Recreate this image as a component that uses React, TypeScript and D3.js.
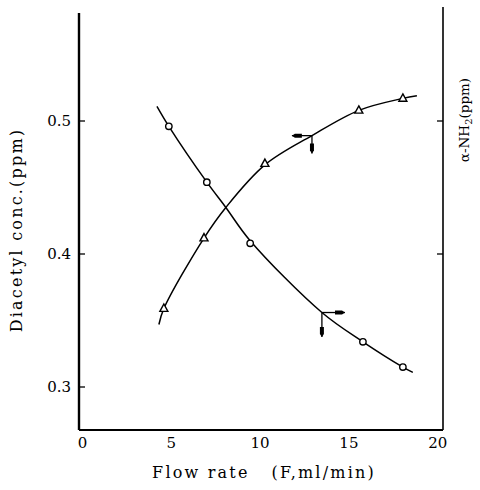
import React from 'react';
import * as d3 from 'd3';

// Flow rate (F, ml/min)
const diacetylF = [4.86, 7.0, 9.44, 15.79, 18.04];
const diacetylV = [0.496, 0.454, 0.408, 0.334, 0.315];
const nh2F = [4.58, 6.84, 10.27, 15.56, 18.04];
const nh2V = [0.359, 0.412, 0.468, 0.508, 0.517];

// hand-drawn fitted curves
const diacetylCurve: [number, number][] = [
  [4.19, 0.511], [4.86, 0.496], [7.0, 0.454], [8.07, 0.435], [9.44, 0.41],
  [13.48, 0.356], [15.79, 0.334], [18.04, 0.315], [18.6, 0.311],
];
const nh2Curve: [number, number][] = [
  [4.3, 0.347], [4.58, 0.359], [6.84, 0.412], [8.07, 0.435], [10.27, 0.467],
  [12.92, 0.489], [15.56, 0.508], [18.04, 0.517], [18.83, 0.519],
];

// axis pointers: where they start and which way they go
const arrows = [
  { f: 12.92, v: 0.489, fTo: 11.79, vTo: 0.4755 },
  { f: 13.48, v: 0.356, fTo: 14.78, vTo: 0.3376 },
];

const xTicks = [0, 5, 10, 15, 20];
const yTicks = [0.3, 0.4, 0.5];
const rightTicks = [0.4, 0.5];

const W = 480;
const H = 490;
const FONT = '"DejaVu Serif", "Liberation Serif", serif';

export default function App() {
  const x = d3.scaleLinear().domain([-0.2, 20.3]).range([79, 443]);
  const y = d3.scaleLinear().domain([0.3, 0.5]).range([387, 121]);
  const yTop = y.invert(13);
  const yTopR = y.invert(7);
  const yBot = y.invert(430);

  const line = d3.line<[number, number]>()
    .x(d => x(d[0])).y(d => y(d[1]))
    .curve(d3.curveCatmullRom.alpha(0.5));

  const head = (x1: number, y1: number, x2: number, y2: number) => {
    // slim filled arrowhead ending at (x2, y2)
    const len = Math.hypot(x2 - x1, y2 - y1);
    const ux = (x2 - x1) / len, uy = (y2 - y1) / len;
    const px = -uy, py = ux;
    const L = 10, hw = 2;
    const bx = x2 - ux * L, by = y2 - uy * L;
    return `M${bx + px * hw},${by + py * hw} L${x2 - ux * 3 + px * hw},${y2 - uy * 3 + py * hw} L${x2},${y2} L${x2 - ux * 3 - px * hw},${y2 - uy * 3 - py * hw} L${bx - px * hw},${by - py * hw} Z`;
  };

  return (
    <svg width={W} height={H} style={{ position: 'absolute', left: 0, top: 0, background: '#fff' }}
      fontFamily={FONT}>
      <rect width={W} height={H} fill="#fff" />

      {/* axes */}
      <line x1={x(-0.2)} x2={x(-0.2)} y1={y(yTop)} y2={y(yBot)} stroke="#000" strokeWidth={2.4} />
      <line x1={x(20.3)} x2={x(20.3)} y1={y(yTopR)} y2={y(yBot)} stroke="#000" strokeWidth={1.6} />
      <line x1={x(-0.2)} x2={x(20.3)} y1={y(yBot)} y2={y(yBot)} stroke="#000" strokeWidth={2} />

      {yTicks.map(t => (
        <g key={t}>
          <line x1={x(-0.2)} x2={x(-0.2) + 6} y1={y(t)} y2={y(t)} stroke="#000" strokeWidth={1.3} />
          <text x={x(-0.2) - 8} y={y(t)} dy="0.35em" textAnchor="end" fontSize={15}>{t.toFixed(1)}</text>
        </g>
      ))}
      {rightTicks.map(t => (
        <line key={t} x1={x(20.3) - 6} x2={x(20.3)} y1={y(t)} y2={y(t)} stroke="#000" strokeWidth={1.3} />
      ))}
      {xTicks.map(t => (
        <text key={t} x={x(t)} y={y(yBot) + 18} textAnchor="middle" fontSize={15}>{t}</text>
      ))}

      {/* axis titles */}
      <text x={264} y={478} textAnchor="middle" fontSize={16} letterSpacing={2.2}>
        {'Flow rate\u00a0\u00a0\u00a0(F,ml/min)'}
      </text>
      <text transform={`translate(22,${y(0.4) - 24}) rotate(-90)`} textAnchor="middle" fontSize={16} letterSpacing={2.2}>
        Diacetyl conc.(ppm)
      </text>
      <text transform={`translate(469,120) rotate(-90)`} textAnchor="middle" fontSize={13.5}>
        α-NH<tspan fontSize={10} dy={3}>2</tspan><tspan dy={-3}>(ppm)</tspan>
      </text>

      {/* curves */}
      <path d={line(diacetylCurve) ?? ''} fill="none" stroke="#000" strokeWidth={1.5} />
      <path d={line(nh2Curve) ?? ''} fill="none" stroke="#000" strokeWidth={1.5} />

      {diacetylF.map((f, i) => (
        <circle key={i} cx={x(f)} cy={y(diacetylV[i])} r={3.2} fill="#fff" stroke="#000" strokeWidth={1.4} />
      ))}
      {nh2F.map((f, i) => {
        const cx = x(f), cy = y(nh2V[i]);
        return (
          <path key={i} d={`M${cx},${cy - 4.5} L${cx + 4},${cy + 2.8} L${cx - 4},${cy + 2.8} Z`}
            fill="#fff" stroke="#000" strokeWidth={1.4} />
        );
      })}

      {/* axis pointers */}
      {arrows.map((a, i) => {
        const x0 = x(a.f), y0 = y(a.v), x1 = x(a.fTo), y1 = y(a.vTo);
        return (
          <g key={i}>
            <line x1={x0} x2={x1} y1={y0} y2={y0} stroke="#000" strokeWidth={1.3} />
            <line x1={x0} x2={x0} y1={y0} y2={y1} stroke="#000" strokeWidth={1.3} />
            <path d={head(x0, y0, x1, y0)} fill="#000" />
            <path d={head(x0, y0, x0, y1)} fill="#000" />
          </g>
        );
      })}
    </svg>
  );
}
